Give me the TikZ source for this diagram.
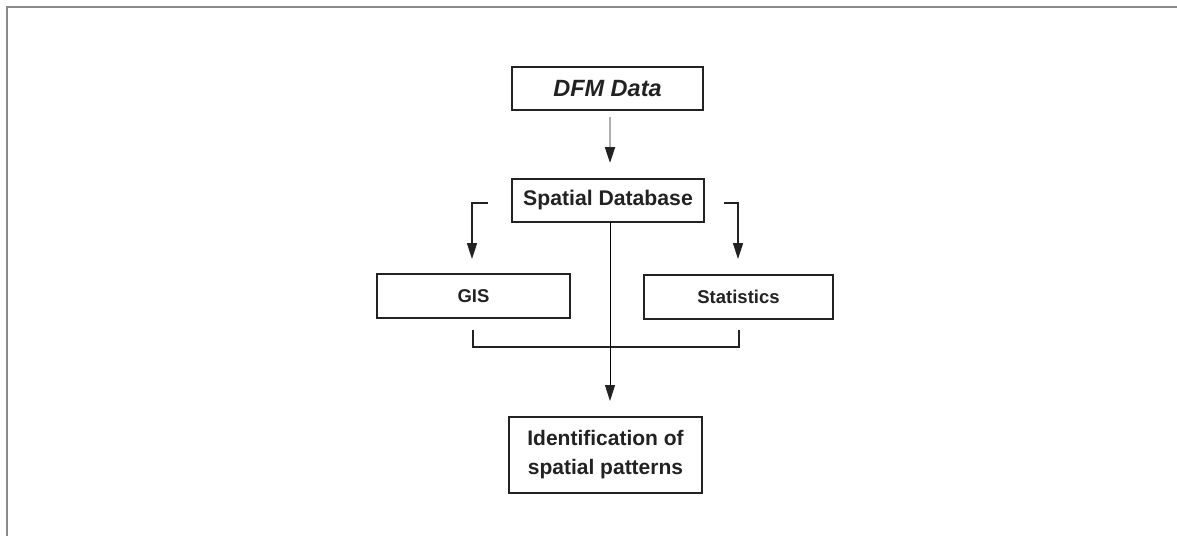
\documentclass[tikz,border=0pt]{standalone}
\usepackage{fontspec}
\setmainfont{Liberation Sans}
\usetikzlibrary{arrows.meta}
\definecolor{ink}{HTML}{222222}
\definecolor{frame}{HTML}{8A8A8A}
\definecolor{thin}{HTML}{8A8A8A}
\definecolor{pale}{HTML}{B0B0B0}
\tikzset{
  box/.style={draw=ink, line width=2.6pt, inner sep=0pt, minimum height=44pt, text=ink, font=\bfseries, align=center},
  conn/.style={draw=ink, line width=1.6pt},
  tip/.style={-{Triangle[width=10pt,length=16pt,color=ink]}},
}
\begin{document}
\begin{tikzpicture}[x=1pt,y=-1pt]
\useasboundingbox (0,0) rectangle (1177,536);
\fill[white] (0,0) rectangle (1177,536);
\draw[frame, line width=2pt] (1177,7) -- (7,7) -- (7,536);

\node[box, minimum width=191pt, minimum height=43pt, font=\bfseries\itshape\fontsize{23.5}{26}\selectfont] (dfm) at (607.5,88.5) {DFM Data};
\node[box, minimum width=192pt, minimum height=43pt, font=\bfseries\fontsize{21.2}{24}\selectfont] (sdb) at (608,200.5) {Spatial Database};
\node[box, minimum width=193pt, font=\bfseries\fontsize{18.5}{22}\selectfont] (gis) at (473.5,296) {GIS};
\node[box, minimum width=189pt, font=\bfseries\fontsize{18.5}{22}\selectfont] (stat) at (738.5,297) {Statistics};
\node[box, minimum width=193pt, minimum height=76pt, font=\bfseries\fontsize{21}{29}\selectfont] (idp) at (605.5,455) {Identification of\\spatial patterns};

% DFM -> Spatial Database
\coordinate (dfmStart) at (610,117);
\coordinate (dfmTip) at (610,163);
\draw[pale, line width=2.2pt, tip] (dfmStart) -- (dfmTip);

% left and right brackets
\coordinate (lA) at (488,203);
\coordinate (lB) at (472,203);
\coordinate (lT) at (472,259);
\coordinate (rA) at (724,203);
\coordinate (rB) at (738,203);
\coordinate (rT) at (738,259);
\draw[conn, tip] (lA) -- (lB) -- (lT);
\draw[conn, tip] (rA) -- (rB) -- (rT);

% bottom bracket
\coordinate (bL) at (473,330);
\coordinate (bLd) at (473,347);
\coordinate (bR) at (739,330);
\coordinate (bRd) at (739,347);
\draw[conn] (bL) -- (bLd) -- (bRd) -- (bR);

% central line
\coordinate (cTop) at (610,222);
\coordinate (cTip) at (610,401);
\draw[thin, line width=0.9pt, tip] (cTop) -- (cTip);
\end{tikzpicture}
\end{document}
